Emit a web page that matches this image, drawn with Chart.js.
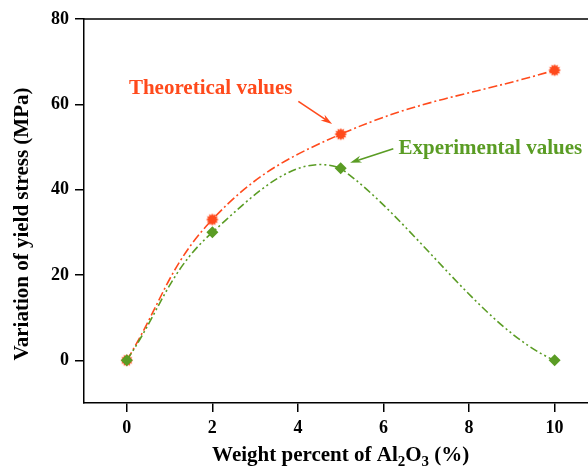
<!DOCTYPE html>
<html>
<head>
<meta charset="utf-8">
<script src="https://cdn.jsdelivr.net/npm/chart.js@4.4.1/dist/chart.umd.min.js"></script>
<style>
  html, body { margin: 0; padding: 0; background: #fff; overflow: hidden; }
  canvas { display: block; }
</style>
</head>
<body>
<canvas id="chart" width="606" height="469"></canvas>
<script>
// data
const weightPercent = [0, 2, 5, 10]
const theoretical = [0, 33, 53, 68]
const experimental = [0, 30, 45, 0]
const xTickValues = [0, 2, 4, 6, 8, 10]
const yTickValues = [0, 20, 40, 60, 80]

const RED = '#ff4a1c'
const GREEN = '#5a9c24'
const SERIF = '"Liberation Serif", "Times New Roman", serif'

// filled burst marker for the theoretical series
const burst = document.createElement('canvas')
burst.width = 16
burst.height = 16
;(function () {
  const c = burst.getContext('2d')
  c.fillStyle = RED
  c.beginPath()
  const n = 12
  for (let i = 0; i < n * 2; i++) {
    const r = i % 2 === 0 ? 6.3 : 4.4
    const a = (Math.PI * i) / n
    c.lineTo(8 + r * Math.cos(a), 8 + r * Math.sin(a))
  }
  c.closePath()
  c.fill()
})()

const toPoints = (ys) => weightPercent.map((x, i) => ({ x: x, y: ys[i] }))

function arrow(ctx, x1, y1, x2, y2, color) {
  const ang = Math.atan2(y2 - y1, x2 - x1)
  ctx.save()
  ctx.strokeStyle = color
  ctx.fillStyle = color
  ctx.lineWidth = 1.6
  ctx.beginPath()
  ctx.moveTo(x1, y1)
  ctx.lineTo(x2 - 6 * Math.cos(ang), y2 - 6 * Math.sin(ang))
  ctx.stroke()
  ctx.beginPath()
  ctx.moveTo(x2, y2)
  ctx.lineTo(x2 - 12 * Math.cos(ang - 0.3), y2 - 12 * Math.sin(ang - 0.3))
  ctx.lineTo(x2 - 8 * Math.cos(ang), y2 - 8 * Math.sin(ang))
  ctx.lineTo(x2 - 12 * Math.cos(ang + 0.3), y2 - 12 * Math.sin(ang + 0.3))
  ctx.closePath()
  ctx.fill()
  ctx.restore()
}

// the source software bends the falling part of the experimental curve
// more sharply than chart.js does, so after the turning point the outgoing
// handle follows the next chord and the last handle is flattened a bit
const reshape = {
  id: 'reshape',
  beforeDatasetDraw(chart, args) {
    const meta = args.meta
    if (meta.dataset === undefined || meta.type !== 'line') return
    if (chart.data.datasets[args.index].label !== 'Experimental values') return
    meta.dataset.updateControlPoints(chart.chartArea, 'x')
    const pts = meta.data
    for (let i = 1; i < pts.length - 1; i++) {
      const p = pts[i], q = pts[i + 1], o = pts[i - 1]
      const turning = (p.y - o.y) * (q.y - p.y) < 0 && q.y > p.y
      if (!turning) continue
      const dx = (q.x - p.x) / 3, dy = (q.y - p.y) / 3
      p.cp2x = p.x + dx
      p.cp2y = p.y + dy * 0.8
      if (i + 1 === pts.length - 1) {
        q.cp1x = q.x - dx
        q.cp1y = q.y - dy * 0.48
      }
    }
  }
}

const decorations = {
  id: 'decorations',
  afterDraw(chart) {
    const { ctx, chartArea: a, scales } = chart
    const px = (v) => scales.x.getPixelForValue(v)
    const py = (v) => scales.y.getPixelForValue(v)

    // top and right frame lines
    ctx.save()
    ctx.strokeStyle = '#000'
    ctx.lineWidth = 1.5
    ctx.beginPath()
    ctx.moveTo(a.left, a.top)
    ctx.lineTo(a.right, a.top)
    ctx.lineTo(a.right, a.bottom)
    ctx.stroke()

    // annotations
    ctx.font = 'bold 21px ' + SERIF
    ctx.textBaseline = 'alphabetic'
    ctx.textAlign = 'left'
    ctx.fillStyle = RED
    ctx.fillText('Theoretical values', px(0.05), py(62.4))
    ctx.fillStyle = GREEN
    ctx.fillText('Experimental values', px(6.35), py(48.4))
    arrow(ctx, px(4.01), py(60.7), px(4.8), py(55.4), RED)
    arrow(ctx, px(6.23), py(49.6), px(5.22), py(46.3), GREEN)

    // x axis title with subscripts
    ctx.fillStyle = '#000'
    const parts = [
      ['Weight percent of Al', 21, 0],
      ['2', 15, 5],
      ['O', 21, 0],
      ['3', 15, 5],
      [' (%)', 21, 0]
    ]
    let total = 0
    parts.forEach((p) => {
      ctx.font = 'bold ' + p[1] + 'px ' + SERIF
      total += ctx.measureText(p[0]).width
    })
    let x = (a.left + a.right) / 2 - total / 2
    parts.forEach((p) => {
      ctx.font = 'bold ' + p[1] + 'px ' + SERIF
      ctx.fillText(p[0], x, 461 + p[2])
      x += ctx.measureText(p[0]).width
    })

    // y axis title
    ctx.translate(23, 224)
    ctx.rotate(-Math.PI / 2)
    ctx.font = 'bold 21px ' + SERIF
    ctx.textAlign = 'center'
    ctx.textBaseline = 'middle'
    ctx.fillText('Variation of yield stress (MPa)', 0, 0)
    ctx.restore()
  }
}

new Chart(document.getElementById('chart').getContext('2d'), {
  type: 'line',
  data: {
    datasets: [
      {
        label: 'Theoretical values',
        data: toPoints(theoretical),
        borderColor: RED,
        borderWidth: 1.6,
        borderDash: [9, 3, 2, 3],
        tension: 0.4,
        pointStyle: burst,
        pointRadius: 7,
        order: 1
      },
      {
        label: 'Experimental values',
        data: toPoints(experimental),
        borderColor: GREEN,
        backgroundColor: GREEN,
        borderWidth: 1.6,
        borderDash: [8, 3, 2, 3, 2, 3],
        tension: 0.4,
        pointStyle: 'rectRot',
        pointRadius: 6,
        pointBorderWidth: 0,
        order: 0
      }
    ]
  },
  options: {
    responsive: false,
    animation: false,
    devicePixelRatio: 1,
    layout: { padding: { top: 19, right: 0, left: 0, bottom: 0 } },
    plugins: {
      legend: { display: false },
      tooltip: { enabled: false }
    },
    scales: {
      x: {
        type: 'linear',
        min: -1,
        max: 11,
        afterBuildTicks: (s) => { s.ticks = xTickValues.map((v) => ({ value: v })) },
        afterFit: (s) => { s.height = 66 },
        ticks: {
          color: '#000',
          padding: 6,
          font: { family: SERIF, size: 18, weight: 'bold' }
        },
        grid: { drawOnChartArea: false, tickLength: 9, color: '#000', lineWidth: 1.5 },
        border: { color: '#000', width: 1.5 }
      },
      y: {
        min: -10,
        max: 80,
        afterBuildTicks: (s) => { s.ticks = yTickValues.map((v) => ({ value: v })) },
        afterFit: (s) => { s.width = 84 },
        ticks: {
          color: '#000',
          padding: 6,
          font: { family: SERIF, size: 18, weight: 'bold' }
        },
        grid: { drawOnChartArea: false, tickLength: 9, color: '#000', lineWidth: 1.5 },
        border: { color: '#000', width: 1.5 }
      }
    }
  },
  plugins: [reshape, decorations]
})
</script>
</body>
</html>
